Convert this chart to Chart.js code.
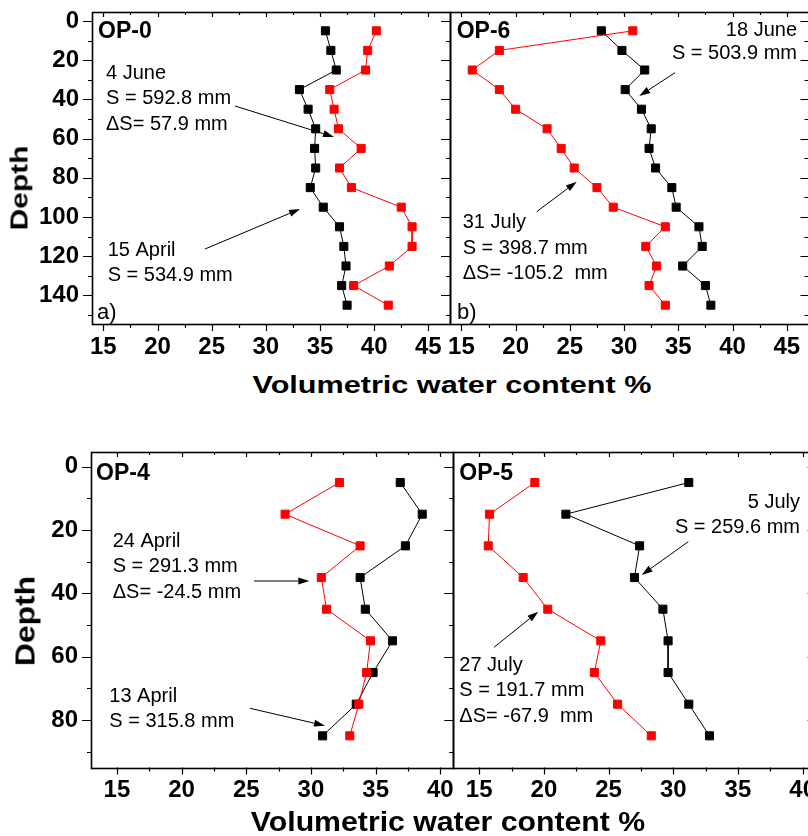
<!DOCTYPE html>
<html>
<head>
<meta charset="utf-8">
<script src="https://cdn.jsdelivr.net/npm/chart.js"></script>
<style>
body { margin: 0; width: 808px; height: 836px; overflow: hidden; background: #fff; position: relative; font-family: "Liberation Sans", Arial, sans-serif; }
canvas { position: absolute; }
.t { position: absolute; font-weight: bold; white-space: nowrap; line-height: 1; color: #000; }
</style>
</head>
<body>
<canvas id="opA"></canvas>
<canvas id="opB"></canvas>
<canvas id="opC"></canvas>
<canvas id="opD"></canvas>
<div class="t" style="left:20.3px;top:188px;font-size:23px;transform:translate(-50%,-50%) rotate(-90deg) scaleX(1.3)">Depth</div>
<div class="t" style="left:451.7px;top:385.3px;font-size:23px;transform:translate(-50%,-50%) scaleX(1.33)">Volumetric water content %</div>
<div class="t" style="left:26.4px;top:621px;font-size:27px;transform:translate(-50%,-50%) rotate(-90deg) scaleX(1.18)">Depth</div>
<div class="t" style="left:448px;top:822px;font-size:27px;transform:translate(-50%,-50%) scaleX(1.12)">Volumetric water content %</div>
<script>
// depths (cm) of the measurements
const depthsTop = [5, 15, 25, 35, 45, 55, 65, 75, 85, 95, 105, 115, 125, 135, 145];
const depthsBottom = [5, 15, 25, 35, 45, 55, 65, 75, 85];

// OP-0
const op0Apr15 = [35.5, 36.0, 36.5, 33.1, 33.9, 34.6, 34.5, 34.6, 34.1, 35.3, 36.8, 37.2, 37.4, 37.0, 37.5];
const op0Jun4 = [40.2, 39.4, 39.2, 35.9, 36.3, 36.7, 38.8, 36.8, 37.9, 42.5, 43.5, 43.5, 41.4, 38.1, 41.3];
// OP-6
const op6Jun18 = [27.9, 29.8, 31.9, 30.1, 31.6, 32.5, 32.3, 32.9, 34.4, 34.8, 36.9, 37.2, 35.4, 37.5, 38.0];
const op6Jul31 = [30.8, 18.5, 16.0, 18.5, 20.0, 22.9, 24.2, 25.4, 27.5, 29.0, 33.8, 32.0, 33.0, 32.3, 33.8];
// OP-4
const op4Apr13 = [36.9, 38.6, 37.3, 33.8, 34.2, 36.3, 34.8, 33.5, 30.9];
const op4Apr24 = [32.2, 28.0, 33.8, 30.8, 31.2, 34.6, 34.3, 33.7, 33.0];
// OP-5
const op5Jul5 = [31.2, 21.7, 27.4, 27.0, 29.2, 29.6, 29.6, 31.2, 32.8];
const op5Jul27 = [19.3, 15.8, 15.7, 18.4, 20.3, 24.4, 23.9, 25.7, 28.3];

const xTicksTop = [15, 20, 25, 30, 35, 40, 45];
const xTicksBottom = [15, 20, 25, 30, 35, 40];
const yTicksTop = [0, 20, 40, 60, 80, 100, 120, 140];
const yTicksBottom = [0, 20, 40, 60, 80];

const FONT = "'Liberation Sans', Arial, sans-serif";

// frame + major/minor ticks (outward left/bottom, inward top/right)
const frameTicks = {
  id: 'frameTicks',
  afterDatasetsDraw(chart, args, o) {
    const { ctx, chartArea: a } = chart;
    const x = chart.scales.x, y = chart.scales.y;
    ctx.save();
    ctx.strokeStyle = '#000';
    ctx.lineWidth = 1.2;
    ctx.beginPath();
    for (let v = Math.ceil(x.min / o.xMinor) * o.xMinor; v <= x.max + 1e-9; v += o.xMinor) {
      const px = Math.round(x.getPixelForValue(v)) + 0.5;
      const major = Math.abs(v / o.xMajor - Math.round(v / o.xMajor)) < 1e-6;
      ctx.moveTo(px, a.bottom); ctx.lineTo(px, a.bottom + (major ? 7 : 4));
      ctx.moveTo(px, a.top); ctx.lineTo(px, a.top + (major ? 5 : 3));
    }
    for (let v = Math.ceil(y.min / o.yMinor) * o.yMinor; v <= y.max + 1e-9; v += o.yMinor) {
      const py = Math.round(y.getPixelForValue(v)) + 0.5;
      const major = Math.abs(v / o.yMajor - Math.round(v / o.yMajor)) < 1e-6;
      ctx.moveTo(a.left, py); ctx.lineTo(a.left - (major ? 9 : 4), py);
      ctx.moveTo(a.right, py); ctx.lineTo(a.right - (major ? 8 : 4), py);
    }
    ctx.stroke();
    ctx.lineWidth = 1.6;
    ctx.strokeRect(Math.round(a.left) + 0.5, Math.round(a.top) + 0.5, Math.round(a.right - a.left), Math.round(a.bottom - a.top));
    ctx.restore();
  }
};

// panel names, date labels and arrows (page coordinates)
const notes = {
  id: 'notes',
  afterDraw(chart, args, o) {
    const ctx = chart.ctx;
    ctx.save();
    ctx.translate(-o.ox, -o.oy);
    ctx.fillStyle = '#000';
    ctx.strokeStyle = '#000';
    ctx.textBaseline = 'middle';
    o.texts.forEach(t => {
      ctx.font = (t.bold ? 'bold ' : '') + t.size + 'px ' + FONT;
      ctx.textAlign = t.align || 'left';
      t.lines.forEach((s, i) => ctx.fillText(s, t.x, t.y + i * (t.gap || 25.6)));
    });
    ctx.lineWidth = 1;
    o.arrows.forEach(([x1, y1, x2, y2]) => {
      const ang = Math.atan2(y2 - y1, x2 - x1);
      const L = 11, W = 3.5;
      const bx = x2 - L * Math.cos(ang), by = y2 - L * Math.sin(ang);
      ctx.beginPath();
      ctx.moveTo(x1, y1); ctx.lineTo(bx, by);
      ctx.stroke();
      ctx.beginPath();
      ctx.moveTo(x2, y2);
      ctx.lineTo(bx + W * Math.sin(ang), by - W * Math.cos(ang));
      ctx.lineTo(bx - W * Math.sin(ang), by + W * Math.cos(ang));
      ctx.closePath();
      ctx.fill();
    });
    ctx.restore();
  }
};

function series(vals, depths, color) {
  return {
    data: vals.map((v, i) => ({ x: v, y: depths[i] })),
    showLine: true,
    borderColor: color,
    backgroundColor: color,
    borderWidth: 1,
    pointStyle: 'rect',
    pointRadius: 5.7,
    pointBorderWidth: 1,
    pointBorderColor: color,
    pointBackgroundColor: color
  };
}

function makePanel(id, c) {
  const el = document.getElementById(id);
  el.width = c.w; el.height = c.h;
  el.style.left = c.left + 'px'; el.style.top = c.top + 'px';
  const tickFont = { family: FONT, size: 24, weight: 'bold', lineHeight: 1.2 };
  return new Chart(el, {
    type: 'scatter',
    data: { datasets: [series(c.red, c.depths, '#ff0000'), series(c.black, c.depths, '#000000')] },
    options: {
      responsive: false,
      animation: false,
      layout: { padding: { top: 12, left: 0, right: c.padRight, bottom: 0 } },
      plugins: {
        legend: { display: false },
        tooltip: { enabled: false },
        frameTicks: { xMinor: 2.5, xMajor: 5, yMinor: 10, yMajor: 20 },
        notes: { ox: c.left, oy: c.top, texts: c.texts, arrows: c.arrows }
      },
      scales: {
        x: {
          type: 'linear', min: c.xMin, max: c.xMax,
          grid: { display: false, drawTicks: false }, border: { display: false },
          afterBuildTicks: s => { s.ticks = c.xTicks.map(v => ({ value: v })); },
          ticks: { color: '#000', font: tickFont, padding: c.xPad, maxRotation: 0, autoSkip: false },
          afterFit: s => { s.height = c.xH; s.paddingLeft = 0; s.paddingRight = 0; }
        },
        y: {
          type: 'linear', reverse: true, min: c.yMin, max: c.yMax,
          grid: { display: false, drawTicks: false }, border: { display: false },
          afterBuildTicks: s => { s.ticks = c.yTicks.map(v => ({ value: v })); },
          ticks: { display: c.yLabels, color: '#000', font: tickFont, padding: 13, autoSkip: false },
          afterFit: s => { s.width = c.yW; s.paddingTop = 0; s.paddingBottom = 0; }
        }
      }
    },
    plugins: [frameTicks, notes]
  });
}

makePanel('opA', {
  left: 0, top: 0, w: 460, h: 365, yW: 92, padRight: 10, xH: 41, xPad: 9,
  xMin: 13.95, xMax: 47, yMin: -4.6, yMax: 154.6, xTicks: xTicksTop, yTicks: yTicksTop, yLabels: true,
  depths: depthsTop, black: op0Apr15, red: op0Jun4,
  texts: [
    { x: 98, y: 32, size: 23, bold: true, lines: ['OP-0'] },
    { x: 106, y: 73, size: 20, lines: ['4 June', 'S = 592.8 mm', '\u0394S= 57.9 mm'] },
    { x: 107.7, y: 250, size: 20, lines: ['15 April', 'S = 534.9 mm'] },
    { x: 97, y: 313, size: 22, lines: ['a)'] }
  ],
  arrows: [[235, 106, 334, 137], [205, 249, 300, 209]]
});

makePanel('opB', {
  left: 440, top: 0, w: 400, h: 365, yW: 10, padRight: 31.5, xH: 41, xPad: 9,
  xMin: 13.95, xMax: 47, yMin: -4.6, yMax: 154.6, xTicks: xTicksTop, yTicks: yTicksTop, yLabels: false,
  depths: depthsTop, black: op6Jun18, red: op6Jul31,
  texts: [
    { x: 456.7, y: 32, size: 23, bold: true, lines: ['OP-6'] },
    { x: 797, y: 30, size: 20, align: 'right', gap: 23.5, lines: ['18 June', 'S = 503.9 mm'] },
    { x: 462.7, y: 222.7, size: 20, lines: ['31 July', 'S = 398.7 mm', '\u0394S= -105.2  mm'] },
    { x: 457, y: 313, size: 22, lines: ['b)'] }
  ],
  arrows: [[675, 72.7, 639.3, 96], [536.7, 211.7, 576.7, 181.7]]
});

makePanel('opC', {
  left: 0, top: 440, w: 470, h: 370, yW: 91, padRight: 16.7, xH: 42.5, xPad: 8,
  xMin: 13, xMax: 41, yMin: -4.64, yMax: 95, xTicks: xTicksBottom, yTicks: yTicksBottom, yLabels: true,
  depths: depthsBottom, black: op4Apr13, red: op4Apr24,
  texts: [
    { x: 96, y: 473.3, size: 23, bold: true, lines: ['OP-4'] },
    { x: 112.7, y: 541, size: 20, lines: ['24 April', 'S = 291.3 mm', '\u0394S= -24.5 mm'] },
    { x: 109.3, y: 696, size: 20, lines: ['13 April', 'S = 315.8 mm'] }
  ],
  arrows: [[254, 581, 309.3, 581], [250, 708.3, 325, 725.7]]
});

makePanel('opD', {
  left: 443, top: 440, w: 400, h: 370, yW: 10.3, padRight: 27.4, xH: 42.5, xPad: 8,
  xMin: 13, xMax: 41, yMin: -4.64, yMax: 95, xTicks: xTicksBottom, yTicks: yTicksBottom, yLabels: false,
  depths: depthsBottom, black: op5Jul5, red: op5Jul27,
  texts: [
    { x: 459.3, y: 473.3, size: 23, bold: true, lines: ['OP-5'] },
    { x: 800, y: 502.3, size: 20, align: 'right', gap: 25, lines: ['5 July', 'S = 259.6 mm'] },
    { x: 459.3, y: 665, size: 20, lines: ['27 July', 'S = 191.7 mm', '\u0394S= -67.9  mm'] }
  ],
  arrows: [[688.3, 541.7, 641.7, 575], [494, 647.3, 538.3, 611.7]]
});
</script>
</body>
</html>
